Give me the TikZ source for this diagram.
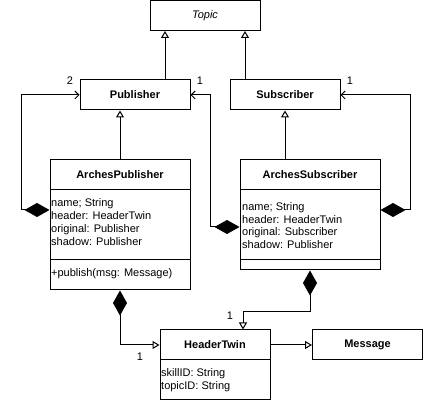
\documentclass[tikz,border=0pt]{standalone}
\usepackage{fontspec}
\setmainfont{Liberation Sans}
\usetikzlibrary{arrows.meta,calc}
\begin{document}
\begin{tikzpicture}[x=1pt,y=-1pt,
  font=\fontsize{11}{12.8}\selectfont,
  lw/.style={line width=1pt},
  box/.style={draw, lw, inner sep=0pt, minimum width=110pt, minimum height=30pt},
  wbox/.style={draw, lw, inner sep=0pt, minimum width=140pt},
  txt/.style={inner sep=0pt, anchor=west, align=left},
  lbl/.style={inner sep=0pt},
  inh/.style={lw, -{Triangle[open, length=7pt, width=8pt]}},
  assoc/.style={lw, {Diamond[length=25pt, width=14pt]}-{Straight Barb[length=4pt, width=8pt]}},
  compi/.style={lw, {Diamond[length=25pt, width=14pt]}-{Triangle[open, length=7pt, width=8pt]}}
]
\useasboundingbox (0,0) rectangle (424,401);
% classes
\node[box] (topic) at (205,15.5) {\itshape Topic};
\node[box] (pub) at (135,95) {\bfseries Publisher};
\node[box] (sub) at (285,95) {\bfseries Subscriber};
\node[wbox, minimum height=30pt] (ap) at (120,175) {\bfseries ArchesPublisher};
\node[wbox, minimum height=70pt] (apa) at (120,225) {};
\node[wbox, minimum height=30pt] (apm) at (120,275) {};
\node[wbox, minimum height=30pt] (as) at (310,175) {\bfseries ArchesSubscriber};
\node[wbox, minimum height=70pt] (asa) at (310,225) {};
\node[wbox, minimum height=10pt] (asm) at (310,265) {};
\node[box] (ht) at (215,345) {\bfseries HeaderTwin};
\node[box, minimum height=40pt] (hta) at (215,380) {};
\node[box] (msg) at (367.5,345) {\bfseries Message};
% compartment texts
\node[txt] (apt) at (51,222) {name; String\\header: HeaderTwin\\original: Publisher\\shadow: Publisher};
\node[txt] (apmt) at (51,274) {+publish(msg: Message)};
\node[txt] (ast) at (242,225.5) {name; String\\header: HeaderTwin\\original: Subscriber\\shadow: Publisher};
\node[txt] (htt) at (161,380) {skillID: String\\topicID: String};
% generalizations
\draw[inh] ([xshift=30pt]pub.north) -- ([xshift=30pt]pub.north |- topic.south);
\draw[inh] ([xshift=-40pt]sub.north) -- ([xshift=-40pt]sub.north |- topic.south);
\draw[inh] (ap.north) -- (ap.north |- pub.south);
\draw[inh] (sub.south |- as.north) -- (sub.south);
% compositions
\coordinate (k1) at (21,95);
\coordinate (k2) at (210,95);
\coordinate (k3) at (410,95);
\coordinate (k4) at ([xshift=28pt]ht.north);
\draw[assoc] ([yshift=15pt]apa.west) -| (k1) -- (pub.west);
\draw[assoc] ([yshift=-2pt]asa.west) -| (k2) -- (pub.east);
\draw[assoc] ([yshift=15pt]asa.east) -| (k3) -- (sub.east);
\draw[compi] (apm.south) |- (ht.west);
\draw[compi] (asm.south) -- ++(0,41) -| (k4);
\draw[inh] (ht.east) -- (msg.west);
% multiplicities
\node[lbl] (m1) at (70,81) {2};
\node[lbl] (m2) at (200,81) {1};
\node[lbl] (m3) at (350,81) {1};
\node[lbl] (m4) at (140,357) {1};
\node[lbl] (m5) at (230,316) {1};
\end{tikzpicture}
\end{document}
